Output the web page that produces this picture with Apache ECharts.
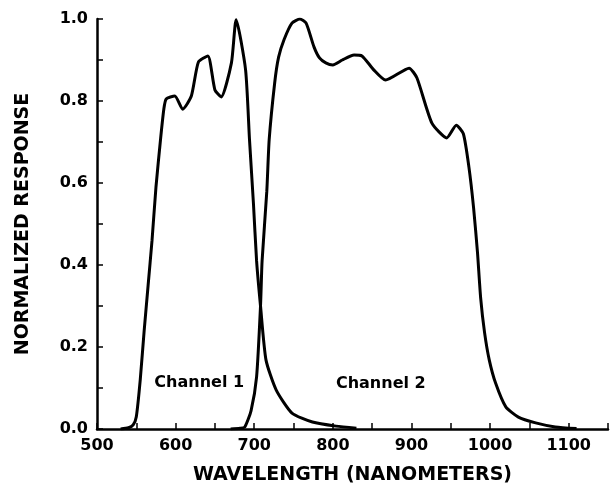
<!DOCTYPE html>
<html>
<head>
<meta charset="utf-8">
<script src="https://cdn.jsdelivr.net/npm/echarts@6/dist/echarts.min.js"></script>
<style>
  html, body { margin: 0; padding: 0; background: #fff; }
  #chart { width: 611px; height: 495px; }
</style>
</head>
<body>
<div id="chart"></div>
<script>
// Channel 1 spectral response
var ch1Wavelength = [530, 540, 546, 550, 555, 560, 565, 570, 575, 581, 585, 588, 599, 609, 620, 629, 641, 650, 658, 671, 677, 689, 694, 699, 703, 708, 715, 728, 748, 774, 804, 830];
var ch1Response   = [0, 0.003, 0.01, 0.03, 0.12, 0.24, 0.35, 0.46, 0.59, 0.71, 0.78, 0.805, 0.812, 0.78, 0.812, 0.895, 0.91, 0.827, 0.81, 0.893, 0.998, 0.876, 0.705, 0.55, 0.41, 0.30, 0.168, 0.095, 0.039, 0.017, 0.007, 0.002];

// Channel 2 spectral response
var ch2Wavelength = [670, 682, 688, 696, 703, 708, 710, 716, 719, 726, 731, 738, 748, 758, 766, 776, 783, 791, 800, 812, 827, 837, 852, 867, 897, 907, 926, 945, 957, 966, 973, 979, 984, 988, 993, 999, 1007, 1020, 1036, 1058, 1083, 1110];
var ch2Response   = [0, 0.002, 0.005, 0.045, 0.127, 0.30, 0.41, 0.58, 0.705, 0.844, 0.907, 0.95, 0.99, 1.0, 0.99, 0.932, 0.905, 0.893, 0.888, 0.90, 0.912, 0.91, 0.876, 0.851, 0.88, 0.856, 0.746, 0.71, 0.741, 0.72, 0.64, 0.54, 0.43, 0.32, 0.235, 0.168, 0.112, 0.054, 0.029, 0.015, 0.005, 0.001];

// Curve labels
var labelText = ['Channel 1', 'Channel 2'];
var labelX = [630, 861];
var labelY = [0.113, 0.11];

var xName = 'WAVELENGTH (NANOMETERS)';
var yName = 'NORMALIZED RESPONSE';

function pairs(xs, ys) { return xs.map(function (x, i) { return [x, ys[i]]; }); }

var chart = echarts.init(document.getElementById('chart'), null, { renderer: 'canvas' });
var FONT = 'DejaVu Sans';
chart.setOption({
  animation: false,
  backgroundColor: '#ffffff',
  grid: { left: 97, right: 1, top: 19, bottom: 66, containLabel: false },
  xAxis: {
    type: 'value', min: 500, max: 1150, interval: 50,
    name: xName, nameLocation: 'middle', nameGap: 37,
    nameTextStyle: { fontFamily: FONT, fontWeight: 'bold', fontSize: 19, color: '#000' },
    axisLine: { show: true, onZero: false, lineStyle: { color: '#000', width: 2.5 } },
    axisTick: { show: true, inside: true, length: 6, lineStyle: { color: '#000', width: 1.5 } },
    axisLabel: { margin: 9, fontFamily: FONT, fontWeight: 'bold', fontSize: 16, color: '#000',
      formatter: function (v) { return (v % 100 === 0 && v < 1150) ? String(v) : ''; } },
    splitLine: { show: false }
  },
  yAxis: {
    type: 'value', min: 0, max: 1.0, interval: 0.1,
    name: yName, nameLocation: 'middle', nameGap: 64,
    nameTextStyle: { fontFamily: FONT, fontWeight: 'bold', fontSize: 19, color: '#000' },
    axisLine: { show: true, lineStyle: { color: '#000', width: 2.5 } },
    axisTick: { show: true, inside: true, length: 6, lineStyle: { color: '#000', width: 1.5 } },
    axisLabel: { margin: 9, fontFamily: FONT, fontWeight: 'bold', fontSize: 16, color: '#000',
      formatter: function (v) { var k = Math.round(v * 10); return k % 2 === 0 ? (k / 10).toFixed(1) : ''; } },
    splitLine: { show: false }
  },
  series: [
    { type: 'line', name: 'Channel 1', data: pairs(ch1Wavelength, ch1Response), showSymbol: false,
      smooth: 0.2, lineStyle: { color: '#000', width: 3 }, z: 3 },
    { type: 'line', name: 'Channel 2', data: pairs(ch2Wavelength, ch2Response), showSymbol: false,
      smooth: 0.2, lineStyle: { color: '#000', width: 3 }, z: 3 }
  ]
});

var gfx = labelText.map(function (t, i) {
  var p = chart.convertToPixel({ gridIndex: 0 }, [labelX[i], labelY[i]]);
  return {
    type: 'text', x: p[0], y: p[1], silent: true,
    style: { text: t, align: 'center', verticalAlign: 'middle', fill: '#000',
      font: 'bold 16px "DejaVu Sans"' }
  };
});
chart.setOption({ graphic: gfx });
</script>
</body>
</html>
